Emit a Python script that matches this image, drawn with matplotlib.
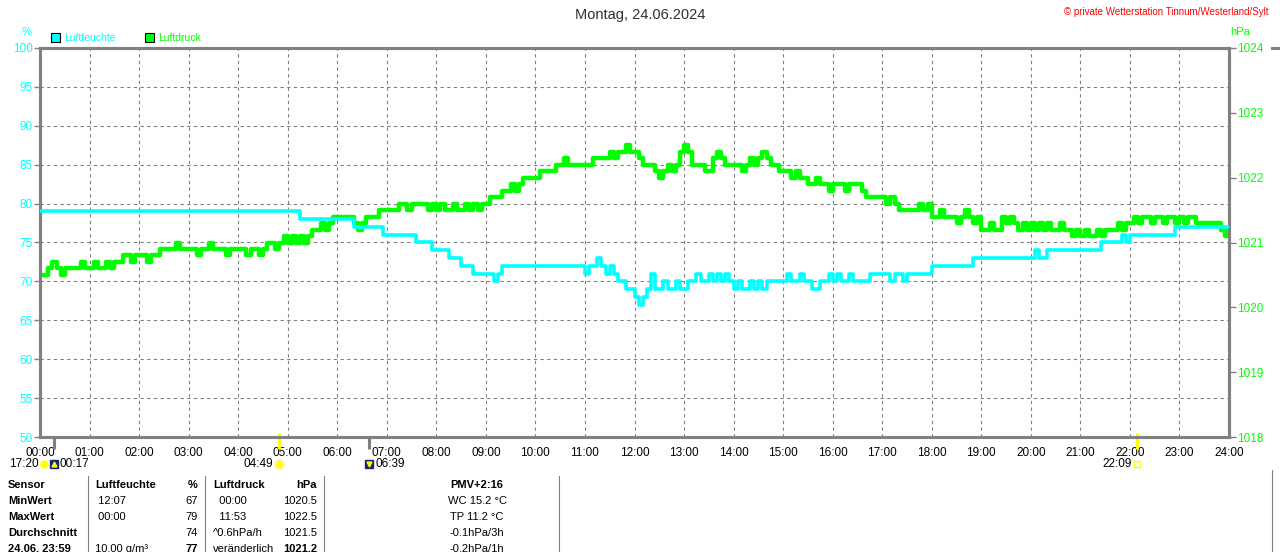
import numpy as np
import matplotlib
matplotlib.use('Agg')
import matplotlib.pyplot as plt
from matplotlib.transforms import blended_transform_factory
from matplotlib.lines import Line2D
from matplotlib.patches import Rectangle

plt.rcParams['font.family'] = ['Liberation Sans', 'DejaVu Sans']

CYAN = '#00FFFF'
GREEN = '#00FF00'
GRAY = '#808080'

# humidity in %, one row per hour, 5 minute samples
humidity_rows = [
    [79] * 12, [79] * 12, [79] * 12, [79] * 12, [79] * 12,
    [79, 79, 79, 78, 78, 78, 78, 78, 78, 78, 78, 78],
    [78, 78, 78, 78, 77, 77, 77, 77, 77, 77, 77, 76],
    [76, 76, 76, 76, 76, 76, 76, 75, 75, 75, 75, 74],
    [74, 74, 74, 73, 73, 73, 72, 72, 72, 71, 71, 71],
    [71, 71, 70, 71, 72, 72, 72, 72, 72, 72, 72, 72],
    [72] * 12,
    [71, 72, 72, 73, 72, 71, 72, 71, 70, 70, 69, 69],
    [68, 67, 68, 69, 71, 69, 69, 70, 69, 69, 70, 69],
    [69, 70, 70, 71, 70, 70, 71, 70, 71, 70, 71, 70],
    [69, 70, 69, 69, 70, 69, 70, 69, 70, 70, 70, 70],
    [70, 71, 70, 70, 71, 70, 70, 69, 69, 70, 70, 71],
    [70, 71, 70, 70, 71, 70, 70, 70, 70, 71, 71, 71],
    [71, 71, 70, 71, 71, 70, 71, 71, 71, 71, 71, 71],
    [72, 72, 72, 72, 72, 72, 72, 72, 72, 72, 73, 73],
    [73] * 12,
    [73, 74, 73, 73, 74, 74, 74, 74, 74, 74, 74, 74],
    [74, 74, 74, 74, 74, 75, 75, 75, 75, 75, 76, 75],
    [76, 76, 76, 76, 76, 76, 76, 76, 76, 76, 76, 77],
    [77] * 12,
]
humidity_end = 77

# pressure in hPa, one row per hour, 5 minute samples
pressure_rows = [
    [1020.5, 1020.5, 1020.6, 1020.7, 1020.6, 1020.5, 1020.6, 1020.6, 1020.6, 1020.6, 1020.7, 1020.6],
    [1020.6, 1020.7, 1020.6, 1020.6, 1020.7, 1020.6, 1020.7, 1020.7, 1020.8, 1020.8, 1020.7, 1020.8],
    [1020.8, 1020.8, 1020.7, 1020.8, 1020.8, 1020.9, 1020.9, 1020.9, 1020.9, 1021.0, 1020.9, 1020.9],
    [1020.9, 1020.9, 1020.8, 1020.9, 1020.9, 1021.0, 1020.9, 1020.9, 1020.9, 1020.8, 1020.9, 1020.9],
    [1020.9, 1020.9, 1020.8, 1020.9, 1020.9, 1020.8, 1020.9, 1021.0, 1021.0, 1020.9, 1021.0, 1021.1],
    [1021.0, 1021.1, 1021.0, 1021.1, 1021.0, 1021.1, 1021.2, 1021.2, 1021.3, 1021.2, 1021.3, 1021.4],
    [1021.4, 1021.4, 1021.4, 1021.4, 1021.3, 1021.2, 1021.3, 1021.4, 1021.4, 1021.4, 1021.5, 1021.5],
    [1021.5, 1021.5, 1021.5, 1021.6, 1021.6, 1021.5, 1021.6, 1021.6, 1021.6, 1021.6, 1021.5, 1021.6],
    [1021.5, 1021.6, 1021.5, 1021.5, 1021.6, 1021.5, 1021.5, 1021.6, 1021.5, 1021.6, 1021.5, 1021.6],
    [1021.6, 1021.7, 1021.7, 1021.7, 1021.8, 1021.8, 1021.9, 1021.8, 1021.9, 1022.0, 1022.0, 1022.0],
    [1022.0, 1022.1, 1022.1, 1022.1, 1022.1, 1022.2, 1022.2, 1022.3, 1022.2, 1022.2, 1022.2, 1022.2],
    [1022.2, 1022.2, 1022.3, 1022.3, 1022.3, 1022.3, 1022.4, 1022.3, 1022.4, 1022.4, 1022.5, 1022.4],
    [1022.4, 1022.3, 1022.2, 1022.2, 1022.2, 1022.1, 1022.0, 1022.1, 1022.2, 1022.1, 1022.2, 1022.4],
    [1022.5, 1022.4, 1022.2, 1022.2, 1022.2, 1022.1, 1022.1, 1022.3, 1022.4, 1022.3, 1022.2, 1022.2],
    [1022.2, 1022.2, 1022.1, 1022.2, 1022.3, 1022.2, 1022.3, 1022.4, 1022.3, 1022.2, 1022.2, 1022.1],
    [1022.1, 1022.1, 1022.0, 1022.1, 1022.0, 1022.0, 1021.9, 1021.9, 1022.0, 1021.9, 1021.9, 1021.8],
    [1021.9, 1021.9, 1021.9, 1021.8, 1021.9, 1021.9, 1021.9, 1021.8, 1021.7, 1021.7, 1021.7, 1021.7],
    [1021.7, 1021.6, 1021.7, 1021.6, 1021.5, 1021.5, 1021.5, 1021.5, 1021.5, 1021.6, 1021.5, 1021.6],
    [1021.4, 1021.4, 1021.5, 1021.4, 1021.4, 1021.4, 1021.3, 1021.4, 1021.5, 1021.4, 1021.3, 1021.4],
    [1021.2, 1021.2, 1021.3, 1021.2, 1021.2, 1021.4, 1021.3, 1021.4, 1021.3, 1021.2, 1021.3, 1021.2],
    [1021.3, 1021.2, 1021.3, 1021.2, 1021.3, 1021.2, 1021.2, 1021.3, 1021.2, 1021.2, 1021.1, 1021.2],
    [1021.1, 1021.2, 1021.1, 1021.1, 1021.2, 1021.1, 1021.2, 1021.2, 1021.2, 1021.3, 1021.2, 1021.3],
    [1021.3, 1021.4, 1021.3, 1021.4, 1021.4, 1021.3, 1021.4, 1021.4, 1021.3, 1021.4, 1021.4, 1021.3],
    [1021.4, 1021.3, 1021.4, 1021.4, 1021.3, 1021.3, 1021.3, 1021.3, 1021.3, 1021.3, 1021.2, 1021.1],
]
pressure_end = 1021.2

hour_labels = ['%02d:00' % h for h in range(25)]
humidity_ticks = list(range(50, 101, 5))
pressure_ticks = list(range(1018, 1025))

# sun / moon events: time in hours, label, kind
event_times = [17 / 60, 4 + 49 / 60, 6 + 39 / 60, 22 + 9 / 60]
event_labels = ['00:17', '04:49', '06:39', '22:09']
event_kinds = ['moonrise', 'sunrise', 'moonset', 'sunset']

table_rows = [
    ['Sensor', 'Luftfeuchte', '%', 'Luftdruck', 'hPa', 'PMV+2:16'],
    ['MinWert', ' 12:07', '67', '  00:00', '1020.5', 'WC 15.2 °C'],
    ['MaxWert', ' 00:00', '79', '  11:53', '1022.5', 'TP 11.2 °C'],
    ['Durchschnitt', '', '74', '^0.6hPa/h', '1021.5', '-0.1hPa/3h'],
    ['24.06. 23:59', '10.00 g/m³', '77', 'veränderlich', '1021.2', '-0.2hPa/1h'],
]

humidity = [v for row in humidity_rows for v in row] + [humidity_end]
pressure = [v for row in pressure_rows for v in row] + [pressure_end]
t = np.arange(len(humidity)) * 5 / 60

W, H = 1280, 552
fig = plt.figure(figsize=(W / 100, H / 100), dpi=100)
fig.patch.set_facecolor('white')


def fx(px):
    return px / W


def fy(py):
    return 1 - py / H


ax = fig.add_axes([fx(40), fy(437), fx(1229) - fx(40), fy(48) - fy(437)])
ax.set_xlim(0, 24)
ax.set_ylim(50, 100)
ax.set_xticks(range(25))
ax.set_xticklabels(hour_labels)
ax.set_yticks(humidity_ticks)
ax.grid(True, color=GRAY, linestyle=(0, (3, 3)), linewidth=0.8)
ax.set_axisbelow(True)
ax.tick_params(axis='x', length=0, labelsize=8.5, pad=7.5, labelcolor='black')
ax.tick_params(axis='y', length=4, width=1, color=GRAY, labelcolor=CYAN,
               labelsize=8.5, pad=1)

ax2 = ax.twinx()
ax2.set_ylim(1018, 1024)
ax2.set_yticks(pressure_ticks)
ax2.tick_params(axis='y', length=5, width=1, color=GRAY, labelcolor=GREEN,
                labelsize=8.5, pad=1)
ax2.step(t, pressure, where='post', color=GREEN, lw=3.2)

ax3 = ax.twinx()
ax3.set_ylim(50, 100)
ax3.axis('off')
ax3.step(t, humidity, where='post', color=CYAN, lw=2.6)

for a in (ax, ax2):
    for s in a.spines.values():
        s.set_color(GRAY)
        s.set_linewidth(2.2)

# sun / moon markers below the time axis
trans = blended_transform_factory(ax.transData, ax.transAxes)
px_y = 1 / 389
for te, lab, kind in zip(event_times, event_labels, event_kinds):
    if kind.startswith('sun'):
        ax.plot([te, te], [4 * px_y, -12 * px_y], color='#FFFF00', lw=2.2,
                transform=trans, clip_on=False, solid_capstyle='butt')
    else:
        ax.plot([te, te], [0, -12 * px_y], color=GRAY, lw=2.2,
                transform=trans, clip_on=False, solid_capstyle='butt')
    iy = -27 * px_y
    if kind == 'sunrise':
        ax.plot(te, iy, marker='o', ms=6, mfc='#FFFF00', mec='#FFF080', mew=1.5,
                transform=trans, clip_on=False)
        ax.annotate(lab, (te, iy), xycoords=trans, xytext=(-4, 0),
                    textcoords='offset points', ha='right', va='center', fontsize=8.5)
    elif kind == 'sunset':
        ax.plot(te, iy, marker='s', ms=4.5, mfc='none', mec='#FFFF00', mew=1,
                transform=trans, clip_on=False)
        ax.annotate(lab, (te, iy), xycoords=trans, xytext=(-4, 0),
                    textcoords='offset points', ha='right', va='center', fontsize=8.5)
    else:
        ax.plot(te, iy, marker='s', ms=6, mfc='#1A237E', mec='#1A237E',
                transform=trans, clip_on=False)
        ax.plot(te, iy, marker='^' if kind == 'moonrise' else 'v', ms=3.5,
                mfc='#FFFF00', mec='#FFFF00', transform=trans, clip_on=False)
        ax.annotate(lab, (te, iy), xycoords=trans, xytext=(4, 0),
                    textcoords='offset points', ha='left', va='center', fontsize=8.5)

# previous moonset, left of the first moon icon
ax.plot(0.08, -27 * px_y, marker='o', ms=5, mfc='#FFFF00', mec='#FFFF00',
        transform=trans, clip_on=False)
ax.annotate('17:20', (0.08, -27 * px_y), xycoords=trans, xytext=(-4, 0),
            textcoords='offset points', ha='right', va='center', fontsize=8.5)

# titles and axis units
fig.text(0.5, fy(15), 'Montag, 24.06.2024', ha='center', va='center',
         fontsize=10.5, color='#303030')
fig.text(fx(1268), fy(12), '© private Wetterstation Tinnum/Westerland/Sylt',
         ha='right', va='center', fontsize=7, color='red')
fig.text(fx(27), fy(32), '%', ha='center', va='center', fontsize=8, color=CYAN)
fig.text(fx(1240), fy(32), 'hPa', ha='center', va='center', fontsize=8, color=GREEN)

# legend
for x0, col, name in [(51, CYAN, 'Luftfeuchte'), (145, GREEN, 'Luftdruck')]:
    fig.add_artist(Rectangle((fx(x0), fy(42)), fx(9), fy(33) - fy(42),
                             facecolor=col, edgecolor='black', lw=0.8,
                             transform=fig.transFigure))
    fig.text(fx(x0 + 13), fy(38), name, ha='left', va='center',
             fontsize=7.5, color=col)

# bottom table
row_y = [485, 501, 517, 533, 549]
col_x = [8, 95, 198, 213, 317, 477]
col_ha = ['left', 'left', 'right', 'left', 'right', 'center']
for r, row in enumerate(table_rows):
    for c, txt in enumerate(row):
        bold = r == 0 or c == 0 or (r == 4 and c in (2, 4))
        fig.text(fx(col_x[c]), fy(row_y[r]), txt, ha=col_ha[c], va='center',
                 fontsize=8, fontweight='bold' if bold else 'normal',
                 color='black')
for sx in [88, 205, 324, 559]:
    fig.add_artist(Line2D([fx(sx), fx(sx)], [fy(476), 0], color=GRAY, lw=0.8,
                          transform=fig.transFigure))

# edge of the next chart on the right
fig.add_artist(Line2D([fx(1272), 1], [fy(48), fy(48)], color=GRAY, lw=2.2,
                      transform=fig.transFigure))
fig.add_artist(Line2D([fx(1272), fx(1272)], [fy(470), 0], color=GRAY, lw=0.8,
                      transform=fig.transFigure))

fig.savefig('out.png', dpi=100)
